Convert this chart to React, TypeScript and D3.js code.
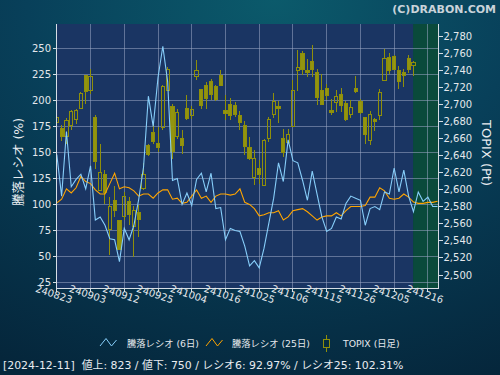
import React from 'react';
import * as d3 from 'd3';

// x-axis tick labels (every 7 trading days, starting 2024-08-23)
const xTickLabels = ['240823', '240903', '240912', '240925', '241004', '241016', '241025', '241106', '241115', '241126', '241205', '241216'];

// TOPIX daily candles (2024-08-23 .. 2024-12-11)
const topixOpen = [2678.6, 2671.6, 2662.9, 2675.1, 2682.9, 2696.2, 2734.6, 2717.0, 2684.5, 2599.5, 2618.3, 2553.3, 2587.8, 2563.5, 2568.2, 2585.8, 2556.4, 2574.0, 2601.5, 2652.4, 2666.9, 2654.3, 2673.1, 2717.0, 2697.4, 2662.2, 2660.2, 2695.4, 2687.6, 2733.8, 2717.8, 2722.5, 2727.5, 2720.9, 2734.2, 2693.1, 2700.1, 2698.6, 2687.6, 2675.5, 2649.6, 2614.4, 2625.0, 2605.4, 2660.2, 2688.8, 2698.2, 2660.2, 2655.5, 2673.9, 2740.5, 2760.1, 2740.5, 2751.4, 2738.5, 2717.0, 2718.9, 2692.7, 2702.5, 2711.9, 2701.3, 2688.8, 2718.9, 2704.4, 2684.5, 2657.5, 2682.5, 2687.6, 2728.7, 2756.1, 2757.3, 2740.5, 2738.5, 2754.2, 2746.3];
const topixHigh = [2688.8, 2675.9, 2684.5, 2693.5, 2695.4, 2715.0, 2735.4, 2741.7, 2688.4, 2654.3, 2623.0, 2591.7, 2604.2, 2564.3, 2597.5, 2591.7, 2580.7, 2581.9, 2631.6, 2654.3, 2677.0, 2673.9, 2722.9, 2744.4, 2700.5, 2695.4, 2670.8, 2711.1, 2698.2, 2753.0, 2718.9, 2726.8, 2730.7, 2722.9, 2740.5, 2711.1, 2708.4, 2703.3, 2692.7, 2680.9, 2662.2, 2646.5, 2634.7, 2660.2, 2685.7, 2713.8, 2704.1, 2672.0, 2672.0, 2729.5, 2764.8, 2763.2, 2753.4, 2769.8, 2742.4, 2736.6, 2724.8, 2707.2, 2717.0, 2719.7, 2704.1, 2705.2, 2733.8, 2706.8, 2685.7, 2692.7, 2684.5, 2718.9, 2765.9, 2760.8, 2758.1, 2745.6, 2741.7, 2758.9, 2751.0];
const topixLow = [2673.1, 2657.5, 2654.3, 2670.8, 2677.0, 2695.4, 2700.5, 2712.3, 2624.2, 2599.5, 2583.8, 2523.1, 2568.2, 2529.0, 2564.3, 2558.4, 2521.2, 2544.7, 2599.5, 2639.4, 2654.3, 2644.5, 2670.0, 2717.0, 2636.7, 2660.2, 2641.8, 2681.7, 2683.7, 2728.7, 2695.4, 2695.4, 2706.0, 2704.1, 2721.7, 2682.5, 2681.7, 2685.7, 2670.8, 2640.6, 2635.5, 2605.4, 2607.3, 2605.4, 2656.3, 2684.9, 2678.6, 2638.7, 2653.5, 2673.9, 2716.2, 2734.6, 2732.6, 2732.6, 2699.4, 2700.0, 2705.2, 2687.6, 2691.5, 2691.5, 2681.0, 2684.9, 2713.8, 2689.6, 2653.5, 2652.4, 2668.8, 2682.5, 2728.7, 2735.8, 2741.7, 2718.9, 2720.9, 2737.3, 2733.4];
const topixClose = [2684.5, 2662.2, 2681.0, 2692.3, 2692.7, 2713.1, 2715.8, 2733.8, 2633.9, 2621.0, 2597.5, 2579.9, 2576.0, 2529.8, 2592.8, 2571.3, 2575.2, 2565.4, 2618.3, 2641.8, 2656.7, 2649.6, 2720.9, 2741.3, 2645.3, 2691.5, 2652.4, 2683.7, 2694.3, 2739.7, 2699.4, 2707.2, 2711.9, 2706.0, 2722.9, 2689.6, 2687.6, 2688.8, 2679.0, 2651.2, 2636.7, 2636.3, 2618.3, 2657.5, 2682.5, 2704.4, 2695.4, 2643.8, 2664.9, 2716.2, 2743.6, 2741.7, 2737.7, 2741.7, 2709.1, 2700.5, 2711.1, 2690.7, 2710.3, 2698.6, 2682.5, 2696.6, 2715.8, 2690.4, 2665.3, 2688.4, 2680.6, 2715.0, 2754.2, 2740.5, 2741.7, 2727.9, 2734.6, 2741.7, 2749.1];

// Advance/decline ratio (%), 6-day and 25-day
const ratio6 = [148, 108, 170, 117, 124, 129, 115, 137, 85, 88, 80, 67, 66, 45, 77, 66, 80, 105, 136, 204, 175, 222, 252, 218, 123, 125, 100, 111, 99, 124, 130, 112, 130, 96, 97, 66, 77, 75, 74, 60, 41, 46, 39, 58, 82, 106, 140, 122, 162, 142, 140, 123, 104, 132, 110, 88, 74, 77, 88, 86, 101, 108, 106, 104, 80, 96, 98, 95, 112, 110, 135, 112, 133, 108, 92.97, 112, 103, 107, 98, 98];
const ratio25 = [101.5, 105, 115, 111, 116, 127, 122, 120, 114, 110, 110, 120, 130, 115, 117, 116, 113, 108, 110, 110, 106, 111, 114, 114, 105, 106, 101, 102, 108, 114, 106, 108, 102, 108, 110, 110, 109, 110, 115, 102, 100, 96, 89, 90, 92, 92, 94, 85, 88, 94, 95, 96, 93, 89, 85, 88, 89, 89, 92, 89, 94, 98, 98, 98, 99, 107, 107, 116, 113, 106, 105, 106, 110, 107, 102.31, 101, 101, 102, 102, 103];

const leftTicks = [25, 50, 75, 100, 125, 150, 175, 200, 225, 250];
const rightTicks = [2500, 2520, 2540, 2560, 2580, 2600, 2620, 2640, 2660, 2680, 2700, 2720, 2740, 2760, 2780];

const legendLabels = ['騰落レシオ (6日)', '騰落レシオ (25日)', 'TOPIX (日足)'];
const footerText = '[2024-12-11]  値上: 823 / 値下: 750 / レシオ6: 92.97% / レシオ25: 102.31%';

const FONT = '"DejaVu Sans", "Noto Sans CJK JP", sans-serif';

export default function App() {
  const W = 500, H = 375;
  const pl = 56.5, pr = 438.5, pt = 24, pb = 288.5;
  const x = d3.scaleLinear().domain([0, 77]).range([56.8, 427.9]);
  const yL = d3.scaleLinear().domain([25, 250]).range([282.5, 48.3]);
  const yR = d3.scaleLinear().domain([2500, 2780]).range([275, 36.7]);
  const fmt = d3.format(',');
  const lastIdx = topixClose.length - 1;
  const greenX = x(lastIdx) - 0.3;

  const line = d3.line<number>().x((_, i) => x(i)).y(d => yL(d));
  const gridTickIdx = xTickLabels.map((_, k) => k * 7);
  const candleW = 3.2;

  return (
    <svg width={W} height={H} style={{ position: 'absolute', left: 0, top: 0 }} fontFamily={FONT}>
      <defs>
        <radialGradient id="bg" cx="55%" cy="0%" r="110%" fx="55%" fy="0%">
          <stop offset="0%" stopColor="#0b5a6b" />
          <stop offset="45%" stopColor="#08405a" />
          <stop offset="100%" stopColor="#05263b" />
        </radialGradient>
        <clipPath id="plotClip">
          <rect x={pl} y={pt} width={pr - pl} height={pb - pt} />
        </clipPath>
      </defs>
      <rect x={0} y={0} width={W} height={H} fill="url(#bg)" />

      <text x={496} y={13} textAnchor="end" fontSize={11} fontWeight="bold" fill="#c9d3da">(C)DRABON.COM</text>

      {/* plot background */}
      <rect x={pl} y={pt} width={greenX - pl} height={pb - pt} fill="#1a3563" />
      <rect x={greenX} y={pt} width={pr - greenX} height={pb - pt} fill="#0a4a3b" />

      {/* grid */}
      <g stroke="#9aa6c4" strokeOpacity={0.55} strokeWidth={1} shapeRendering="crispEdges">
        {leftTicks.map(t => (
          <line key={'h' + t} x1={pl} x2={pr} y1={yL(t)} y2={yL(t)} />
        ))}
        {gridTickIdx.map(i => (
          <line key={'v' + i} x1={x(i)} x2={x(i)} y1={pt} y2={pb} />
        ))}
      </g>

      {/* candles */}
      <g clipPath="url(#plotClip)" shapeRendering="crispEdges">
        {topixClose.map((c, i) => {
          const o = topixOpen[i];
          const up = c >= o;
          const cx = x(i);
          const top = yR(Math.max(o, c));
          const bot = yR(Math.min(o, c));
          return (
            <g key={'c' + i}>
              <line x1={cx} x2={cx} y1={yR(topixHigh[i])} y2={top} stroke="#8f8f0a" />
              <line x1={cx} x2={cx} y1={bot} y2={yR(topixLow[i])} stroke="#8f8f0a" />
              <rect x={cx - candleW / 2} y={top} width={candleW} height={Math.max(1, bot - top)}
                fill={up ? 'none' : '#9c9c08'} fillOpacity={0.92} stroke="#8f8f0a" strokeWidth={1} />
            </g>
          );
        })}
      </g>

      {/* ratio lines */}
      <g clipPath="url(#plotClip)" fill="none" strokeWidth={1.1}>
        <path d={line(ratio25) || ''} stroke="#ffa500" />
        <path d={line(ratio6) || ''} stroke="#87cefa" />
      </g>

      {/* axes */}
      <g stroke="#d6dde4" strokeWidth={1} shapeRendering="crispEdges">
        <line x1={pl} x2={pl} y1={pt} y2={pb} />
        <line x1={pr} x2={pr} y1={pt} y2={pb} />
        <line x1={pl} x2={pr} y1={pb} y2={pb} />
        {leftTicks.map(t => <line key={'lt' + t} x1={pl - 4} x2={pl} y1={yL(t)} y2={yL(t)} />)}
        {rightTicks.map(t => <line key={'rt' + t} x1={pr} x2={pr + 4} y1={yR(t)} y2={yR(t)} />)}
        {gridTickIdx.map(i => <line key={'bt' + i} x1={x(i)} x2={x(i)} y1={pb} y2={pb + 3} />)}
      </g>
      <g fill="#e4e8ec" fontSize={10}>
        {leftTicks.map(t => (
          <text key={'ll' + t} x={pl - 5.5} y={yL(t)} dy="0.35em" textAnchor="end">{t}</text>
        ))}
        {rightTicks.map(t => (
          <text key={'rl' + t} x={pr + 5} y={yR(t)} dy="0.35em" textAnchor="start">{fmt(t)}</text>
        ))}
      </g>
      <g fill="#e4e8ec" fontSize={10}>
        {xTickLabels.map((lab, k) => {
          const xi = x(gridTickIdx[k]);
          return (
            <text key={'xl' + k} transform={`translate(${xi - 4},${pb + 9}) rotate(18)`} textAnchor="middle">{lab}</text>
          );
        })}
      </g>

      {/* axis titles */}
      <text transform={`translate(23,${162}) rotate(-90)`} textAnchor="middle" fontSize={12.5} fill="#e8ecf0">騰落レシオ (%)</text>
      <text transform={`translate(482,${153}) rotate(90)`} textAnchor="middle" fontSize={13} fill="#e8ecf0">TOPIX (Pt)</text>

      {/* legend */}
      <g fontSize={9.3} fill="#e4e8ec">
        <polyline points="100,346 106,338.5 111.5,346 116.5,340" fill="none" stroke="#87cefa" strokeWidth={1} />
        <text x={127} y={347}>{legendLabels[0]}</text>
        <polyline points="206,346 212,338.5 217.5,346 222.5,340" fill="none" stroke="#ffa500" strokeWidth={1} />
        <text x={232} y={347}>{legendLabels[1]}</text>
        <line x1={326.5} x2={326.5} y1={335} y2={352} stroke="#8f8f0a" />
        <rect x={323.5} y={339.5} width={6} height={8} fill="#052c40" stroke="#8f8f0a" />
        <text x={343} y={347}>{legendLabels[2]}</text>
      </g>

      <text x={3} y={369} fontSize={10.9} fill="#e8ecf0" style={{ whiteSpace: 'pre' }}>{footerText}</text>
    </svg>
  );
}
